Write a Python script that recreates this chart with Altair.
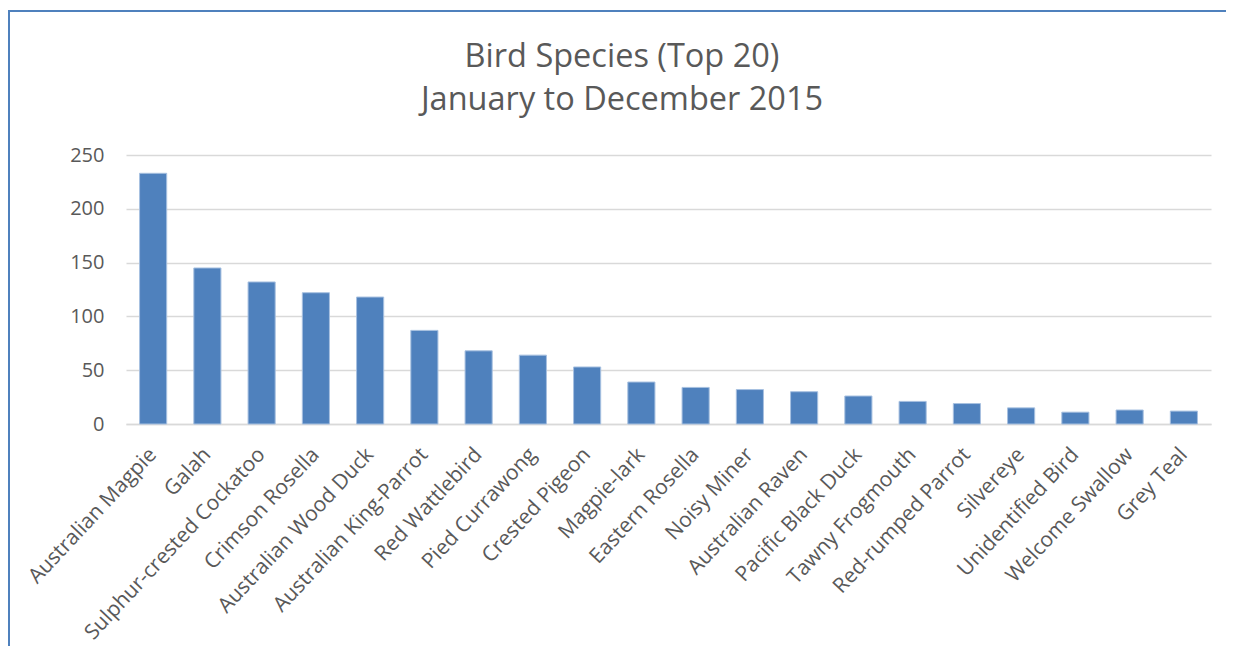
import altair as alt
import pandas as pd

species = [
    "Australian Magpie", "Galah", "Sulphur-crested Cockatoo", "Crimson Rosella",
    "Australian Wood Duck", "Australian King-Parrot", "Red Wattlebird",
    "Pied Currawong", "Crested Pigeon", "Magpie-lark", "Eastern Rosella",
    "Noisy Miner", "Australian Raven", "Pacific Black Duck", "Tawny Frogmouth",
    "Red-rumped Parrot", "Silvereye", "Unidentified Bird", "Welcome Swallow",
    "Grey Teal",
]
counts = [233, 145, 132, 122, 118, 87, 68, 64, 53, 39, 34, 32, 30, 26, 21, 19, 15, 11, 13, 12]
y_ticks = [0, 50, 100, 150, 200, 250]
title_lines = ["Bird Species (Top 20)", "January to December 2015"]

df = pd.DataFrame({"species": species, "count": counts})

FONT = "Open Sans"
GREY = "#595959"

bars = alt.Chart(df).mark_bar(
    color="#4F81BD", stroke="#A7C0E0", strokeWidth=1
).encode(
    x=alt.X(
        "species:N", sort=species, title=None,
        scale=alt.Scale(paddingInner=0.5, paddingOuter=0.25),
        axis=alt.Axis(labelAngle=-47, labelAlign="right", labelBaseline="middle",
                      labelFontSize=21, labelColor=GREY, labelFont=FONT,
                      labelLimit=500, labelOverlap=False,
                      ticks=False, domain=True, domainColor="#D9D9D9",
                      domainWidth=1.5, labelPadding=27),
    ),
    y=alt.Y(
        "count:Q", title=None,
        scale=alt.Scale(domain=[0, 250], nice=False),
        axis=alt.Axis(values=y_ticks, labelFontSize=20, labelColor=GREY,
                      labelFont=FONT, ticks=False, domain=False, labelPadding=22,
                      gridColor="#D9D9D9", gridWidth=1.5),
    ),
)


def title_line(i, yv):
    return alt.Chart(pd.DataFrame({"line": [title_lines[i]]})).mark_text(
        font=FONT, fontSize=32.5, color=GREY, baseline="middle", align="center", clip=False
    ).encode(text="line:N", x=alt.value(496), y=alt.value(yv))


title1 = title_line(0, -98)
title2 = title_line(1, -55)

# chart-area border (left and top edges)
border_left = alt.Chart(df).mark_rule(color="#4F81BD", strokeWidth=2, clip=False).encode(
    x=alt.value(-117), y=alt.value(-144), y2=alt.value(560)
)
border_top = alt.Chart(df).mark_rule(color="#4F81BD", strokeWidth=2, clip=False).encode(
    x=alt.value(-118), x2=alt.value(1110), y=alt.value(-144)
)

chart = alt.layer(bars, title1, title2, border_left, border_top).properties(
    width=1085,
    height=269,
    autosize=alt.AutoSizeParams(type="none"),
    padding={"left": 118, "top": 147, "right": 15, "bottom": 222},
).configure(background="white").configure_view(stroke=None)

chart.save("out.html", embed_options={"renderer": "svg", "actions": False})
